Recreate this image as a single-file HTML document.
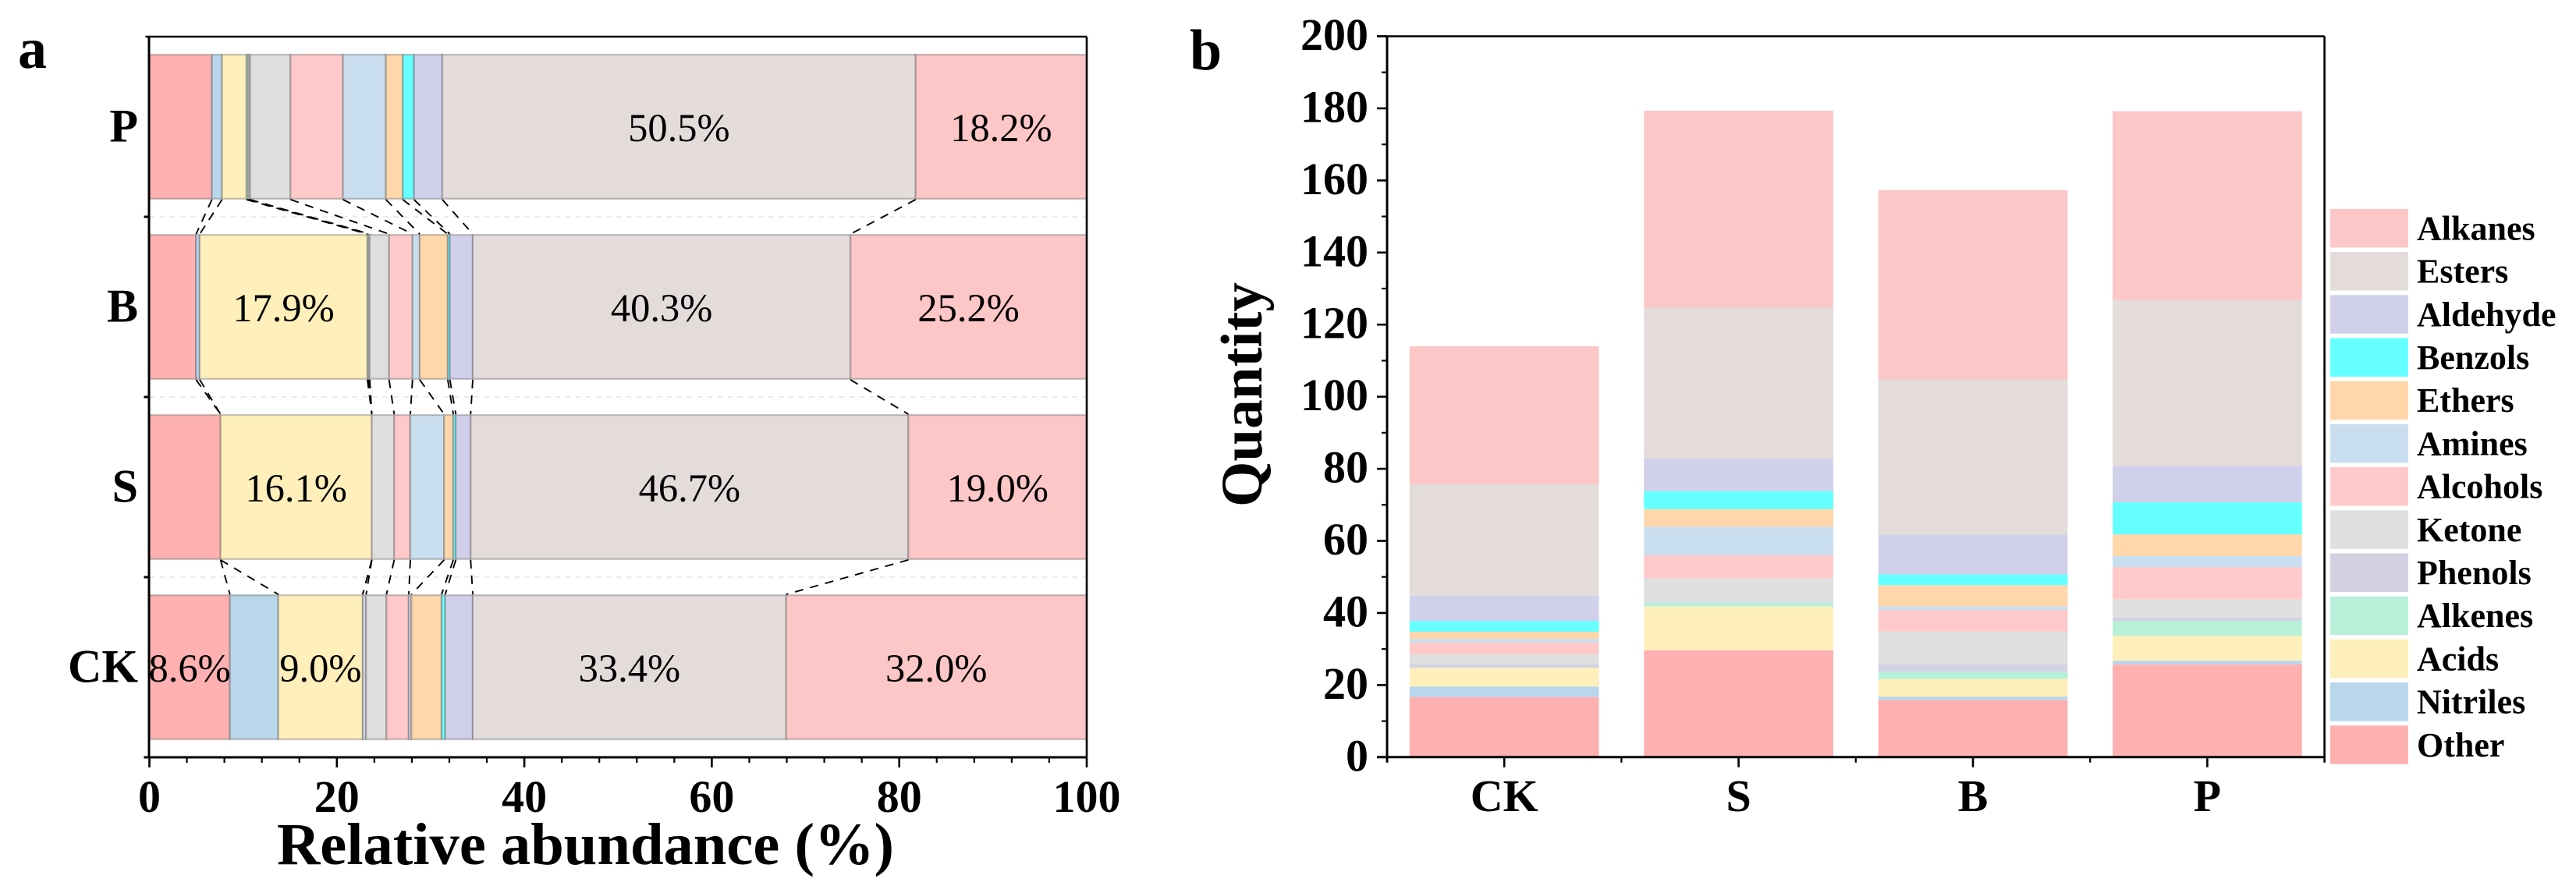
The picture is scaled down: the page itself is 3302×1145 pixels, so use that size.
<!DOCTYPE html>
<html lang="en">
<head>
<meta charset="utf-8">
<title>Relative abundance and quantity of compound classes</title>
<style>
html,body{margin:0;padding:0;background:#fff;}
svg{display:block;}
text{font-family:"Liberation Serif","Times New Roman",serif;fill:#000;}
.b{font-weight:bold;}
</style>
</head>
<body>
<svg id="figure" xmlns="http://www.w3.org/2000/svg" width="3302" height="1145" viewBox="0 0 3302 1145">
  <rect x="0" y="0" width="3302" height="1145" fill="#fff"/>
  <text class="b" x="23" y="87" font-size="74">a</text>
  <text class="b" x="1525" y="89" font-size="74">b</text>
  <text class="b" x="355" y="1108" font-size="76.5" textLength="791" lengthAdjust="spacingAndGlyphs">Relative abundance (%)</text>
  <text class="b" transform="translate(1617,650) rotate(-90)" x="0" y="0" font-size="75" textLength="288" lengthAdjust="spacingAndGlyphs">Quantity</text>
  <g id="panel-a"></g>
  <g id="panel-b"></g>
  <g id="legend"></g>
</svg>
<script>
// Shared series (bottom/left to top/right)
const seriesNames = ['Other','Nitriles','Acids','Alkenes','Phenols','Ketone','Alcohols','Amines','Ethers','Benzols','Aldehyde','Esters','Alkanes'];
const seriesColors = ['#FFB1B2','#B8D6EC','#FFEFBA','#B7F0D8','#D3D2E3','#DFDFDF','#FFC9CA','#C9DFF0','#FFD7AB','#66FFFF','#D1D0EB','#E3DCDA','#FDC6C7'];

// Panel a: relative abundance (%)
const abundanceCategories = ['CK','S','B','P'];
const abundanceCK = [8.59,5.16,9.01,0,0.36,2.17,2.38,0.28,3.22,0.39,2.94,33.44,32.04];
const abundanceS  = [7.59,0,16.14,0,0,2.39,1.72,3.61,0.97,0.27,1.58,46.7,19.03];
const abundanceB  = [4.98,0.39,17.89,0.12,0.13,2.06,2.5,0.77,2.99,0.23,2.44,40.3,25.2];
const abundanceP  = [6.67,1.08,2.61,0.2,0.19,4.3,5.6,4.58,1.8,1.2,3.02,50.5,18.24];
const abundanceTicks = [0,20,40,60,80,100];
const abundanceMinorTicks = [4,8,12,16,24,28,32,36,44,48,52,56,64,68,72,76,84,88,92,96];

// Panel b: quantity
const quantityCategories = ['CK','S','B','P'];
const quantityCK = [16.7,2.9,5.2,0,1,2.8,3.2,1,2,3,7,30.9,38.3];
const quantityS  = [29.65,0,12.15,1,0,6.9,6.3,7.9,4.9,5,9.1,41.9,54.55];
const quantityB  = [15.8,1,4.85,2.05,2.1,9.05,5.95,1,5.9,3,11.1,43,52.5];
const quantityP  = [25.75,1,6.95,4.1,0.95,5.05,8.9,3.1,6,8.9,10.1,46.1,52.3];
const quantityTicks = [0,20,40,60,80,100,120,140,160,180,200];
const quantityMinorTicks = [10,30,50,70,90,110,130,150,170,190];

const abundanceRows = [abundanceCK, abundanceS, abundanceB, abundanceP];
const quantityRows = [quantityCK, quantityS, quantityB, quantityP];

const NS = 'http://www.w3.org/2000/svg';
function make(parent, tag) {
  const el = document.createElementNS(NS, tag);
  parent.appendChild(el);
  return el;
}
function setAll(el, props) {
  for (const k in props) el.setAttribute(k, props[k]);
  return el;
}
function slug(s) { return String(s).toLowerCase().replace(/[^a-z0-9]+/g, '-'); }

/* ---------- Panel a ---------- */
const A = {left: 191.5, right: 1393, top: 47, bottom: 971, barFrac: 0.8};
const gA = document.getElementById('panel-a');
const xA = v => A.left + (v / 100) * (A.right - A.left);
const bandA = (A.bottom - A.top) / abundanceCategories.length;
const rowCenterA = i => A.bottom - bandA * (i + 0.5);
const barHA = bandA * A.barFrac;

// dashed category grid lines
for (let i = 1; i < abundanceCategories.length; i++) {
  const y = A.bottom - bandA * i;
  const grid = setAll(make(gA, 'line'), {x1: A.left, x2: A.right, y1: y, y2: y, stroke: '#e6e6e6', 'stroke-width': 1.5, 'stroke-dasharray': '7 6'});
  
  
}

// stacked horizontal bars
abundanceRows.forEach((row, i) => {
  let cum = 0;
  const cy = rowCenterA(i);
  row.forEach((v, s) => {
    if (v > 0) {
      const seg = setAll(make(gA, 'rect'), {x: xA(cum), y: cy - barHA / 2, width: xA(cum + v) - xA(cum), height: barHA, fill: seriesColors[s], stroke: 'rgba(80,80,80,0.32)', 'stroke-width': 2.4});
      
      
    }
    cum += v;
  });
});

// dashed connectors between neighbouring bars
for (let i = 0; i < abundanceRows.length - 1; i++) {
  let cumLow = 0, cumHigh = 0;
  for (let s = 0; s < seriesNames.length - 1; s++) {
    cumLow += abundanceRows[i][s];
    cumHigh += abundanceRows[i + 1][s];
    const link = setAll(make(gA, 'line'), {
      x1: xA(cumHigh), y1: rowCenterA(i + 1) + barHA / 2 + 1,
      x2: xA(cumLow), y2: rowCenterA(i) - barHA / 2 - 1,
      stroke: '#000', 'stroke-width': 1.9, 'stroke-dasharray': '11 9'
    });
    
    
  }
}

// percent labels for the large segments
abundanceRows.forEach((row, i) => {
  let cum = 0;
  row.forEach((v) => {
    if (v > 8) {
      const label = setAll(make(gA, 'text'), {x: xA(cum + v / 2), y: rowCenterA(i) + 18.5, 'text-anchor': 'middle', 'font-size': 50.5});
      label.textContent = v.toFixed(1) + '%';
      
      
    }
    cum += v;
  });
});

// axes frame
[[A.left - 5, A.top, A.right, A.top, 'top-axis-line', 2.6],
 [A.left - 0.5, A.top, A.left - 0.5, A.bottom, 'left-axis-line', 3],
 [A.right, A.top, A.right, A.bottom, 'right-axis-line', 2.6],
 [A.left - 7, A.bottom, A.right, A.bottom, 'x-axis-line', 3]].forEach(d => {
  const ln = setAll(make(gA, 'line'), {x1: d[0], y1: d[1], x2: d[2], y2: d[3], stroke: '#000', 'stroke-width': d[5]});
  
  
});

// y ticks / category labels
for (let i = 1; i < abundanceCategories.length; i++) {
  const y = A.bottom - bandA * i;
  const tick = setAll(make(gA, 'line'), {x1: A.left - 7, x2: A.left, y1: y, y2: y, stroke: '#000', 'stroke-width': 3});
  
  
}
abundanceCategories.forEach((c, i) => {
  const lab = setAll(make(gA, 'text'), {x: 177, y: rowCenterA(i) + 19, 'text-anchor': 'end', 'font-size': 60, 'font-weight': 'bold'});
  lab.textContent = c;
  
  
});

// x ticks
abundanceTicks.forEach(t => {
  const tick = setAll(make(gA, 'line'), {x1: xA(t), x2: xA(t), y1: A.bottom, y2: A.bottom + 13, stroke: '#000', 'stroke-width': 2.6});
  
  
  const lab = setAll(make(gA, 'text'), {x: xA(t), y: 1041, 'text-anchor': 'middle', 'font-size': 58, 'font-weight': 'bold'});
  lab.textContent = t;
  
  
});
abundanceMinorTicks.forEach(t => {
  const tick = setAll(make(gA, 'line'), {x1: xA(t), x2: xA(t), y1: A.bottom, y2: A.bottom + 7, stroke: '#000', 'stroke-width': 2.2});
  
  
});

/* ---------- Panel b ---------- */
const B = {left: 1778, right: 2979.6, top: 46.5, bottom: 970.8, barFrac: 0.808, max: 200};
const gB = document.getElementById('panel-b');
const yB = v => B.bottom - (v / B.max) * (B.bottom - B.top);
const bandB = (B.right - B.left) / quantityCategories.length;
const centerB = i => B.left + bandB * (i + 0.5);
const barWB = bandB * B.barFrac;

quantityRows.forEach((row, i) => {
  let cum = 0;
  row.forEach((v, s) => {
    if (v > 0) {
      const seg = setAll(make(gB, 'rect'), {x: centerB(i) - barWB / 2, y: yB(cum + v), width: barWB, height: yB(cum) - yB(cum + v), fill: seriesColors[s]});
      
      
    }
    cum += v;
  });
});

[[B.left - 13, B.top, B.right, B.top, 'top-axis-line', 2.4],
 [B.left, B.top, B.left, B.bottom + 7, 'left-axis-line', 3],
 [B.right, B.top, B.right, B.bottom + 7, 'right-axis-line', 2.6],
 [B.left - 13, B.bottom, B.right, B.bottom, 'x-axis-line', 3]].forEach(d => {
  const ln = setAll(make(gB, 'line'), {x1: d[0], y1: d[1], x2: d[2], y2: d[3], stroke: '#000', 'stroke-width': d[5]});
  
  
});

quantityTicks.forEach(t => {
  const tick = setAll(make(gB, 'line'), {x1: B.left - 13, x2: B.left, y1: yB(t), y2: yB(t), stroke: '#000', 'stroke-width': 2.6});
  
  
  const lab = setAll(make(gB, 'text'), {x: 1754, y: yB(t) + 17.5, 'text-anchor': 'end', 'font-size': 58, 'font-weight': 'bold'});
  lab.textContent = t;
  
  
});
quantityMinorTicks.forEach(t => {
  const tick = setAll(make(gB, 'line'), {x1: B.left - 7, x2: B.left, y1: yB(t), y2: yB(t), stroke: '#000', 'stroke-width': 2.2});
  
  
});
quantityCategories.forEach((c, i) => {
  const tick = setAll(make(gB, 'line'), {x1: centerB(i), x2: centerB(i), y1: B.bottom, y2: B.bottom + 13, stroke: '#000', 'stroke-width': 2.6});
  
  
  const lab = setAll(make(gB, 'text'), {x: centerB(i), y: 1040, 'text-anchor': 'middle', 'font-size': 58, 'font-weight': 'bold'});
  lab.textContent = c;
  
  
  if (i > 0) {
    const minor = setAll(make(gB, 'line'), {x1: B.left + bandB * i, x2: B.left + bandB * i, y1: B.bottom, y2: B.bottom + 7, stroke: '#000', 'stroke-width': 2.2});
    
    
  }
});

/* ---------- Legend ---------- */
const gL = document.getElementById('legend');
seriesNames.slice().reverse().forEach((name, k) => {
  const color = seriesColors[seriesNames.length - 1 - k];
  const top = 267.9 + k * 55.2;
  const sw = setAll(make(gL, 'rect'), {x: 2987, y: top, width: 100, height: 49.5, fill: color});
  
  
  const lab = setAll(make(gL, 'text'), {x: 3098, y: top + 39.5, 'font-size': 44, 'font-weight': 'bold'});
  lab.textContent = name;
  
  
});
</script>
</body>
</html>
